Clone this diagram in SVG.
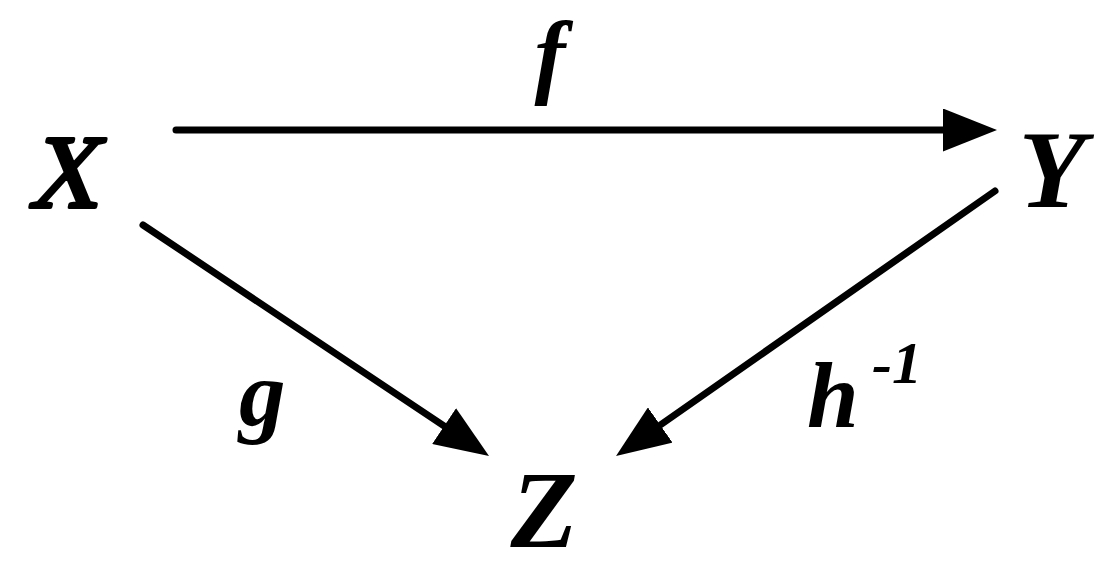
<svg xmlns="http://www.w3.org/2000/svg" width="1116" height="573" viewBox="0 0 1116 573">
<style>
.edge{stroke:#000;stroke-width:7;stroke-linecap:round;fill:none;marker-end:url(#ah)}
.t{font-family:"Liberation Serif","Times New Roman",serif;font-style:italic;font-weight:bold;fill:#000}
.r{font-family:"Liberation Serif","Times New Roman",serif;font-style:normal;font-weight:normal;fill:#000;stroke:#000;stroke-width:4px;stroke-linejoin:round}
.n{font-size:110px;text-anchor:middle}
.l{font-size:93px}
.s{font-size:60px}
</style>
<defs>
<marker id="ah" viewBox="0 0 54 43" refX="34" refY="21.5" markerWidth="54" markerHeight="43" markerUnits="userSpaceOnUse" orient="auto">
<path d="M0,0 L54,21.5 L0,43 z" fill="#000"/>
</marker>
</defs>
<rect width="1116" height="573" fill="#fff"/>
<g id="node-X"><text class="r" font-size="104" text-anchor="middle" transform="translate(62.5,207) skewX(-12) scale(0.92,1)" x="0" y="0">X</text></g>
<g id="connectors">
<line class="edge" x1="176" y1="130" x2="977" y2="130"/>
<line class="edge" x1="143" y1="225" x2="472.4" y2="444.9"/>
<line class="edge" x1="995" y1="191" x2="632.4" y2="444.5"/>
</g>
<g id="node-Y"><text class="t n" x="1052" y="207">Y</text></g>
<g id="node-Z"><text class="t n" x="544" y="547">Z</text></g>
<g id="label-f"><text class="t l" x="550" y="86" text-anchor="middle">f</text></g>
<g id="label-g"><text class="t l" x="239" y="425">g</text></g>
<g id="label-h"><text class="t l" x="807" y="427">h<tspan class="s" x="872" y="383">-1</tspan></text></g>
</svg>
